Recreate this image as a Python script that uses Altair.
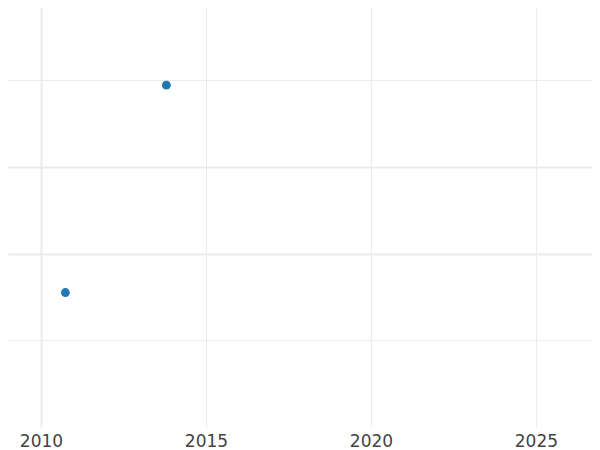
import altair as alt
import pandas as pd

years = [2010.74, 2013.80]
values = [0.55, 2.94]
x_ticks = [2010, 2015, 2020, 2025]
y_ticks = [0, 1, 2, 3]

df = pd.DataFrame({"year": years, "value": values})

chart = alt.Chart(df).mark_circle(size=78, opacity=1, color="#1f77b4").encode(
    x=alt.X(
        "year:Q",
        scale=alt.Scale(domain=[2009, 2026.70], nice=False, zero=False),
        axis=alt.Axis(
            values=x_ticks,
            format="d",
            title=None,
            ticks=False,
            domain=False,
            labelFont="DejaVu Sans",
            labelFontSize=17,
            labelColor="#444444",
            labelPadding=6,
            gridColor="#ebebeb",
            gridWidth={"condition": {"test": "datum.value == 2010", "value": 2}, "value": 1},
        ),
    ),
    y=alt.Y(
        "value:Q",
        scale=alt.Scale(domain=[-1.0, 3.83], nice=False, zero=False),
        axis=alt.Axis(
            values=y_ticks,
            title=None,
            labels=False,
            ticks=False,
            domain=False,
            gridColor="#ebebeb",
            gridWidth={"condition": {"test": "datum.value == 1 || datum.value == 2", "value": 2}, "value": 1},
        ),
    ),
).properties(
    width=584,
    height=419,
    padding=0,
).configure(background="white").configure_view(stroke=None)

chart.save("out.html", embed_options={"renderer": "svg", "actions": False})
